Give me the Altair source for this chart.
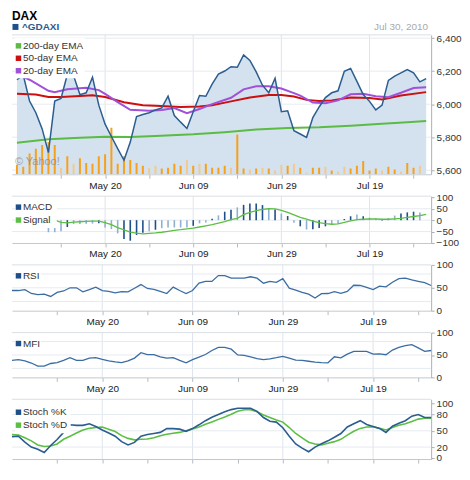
import altair as alt
import pandas as pd

# ---------------- data ----------------
tick_idx = [14, 28, 42, 56]
tick_labels = ["May 20", "Jun 09", "Jun 29", "Jul 19"]
minor_idx = [7, 14, 21, 28, 35, 42, 49, 56, 63]

close = [6148, 6177, 6019, 5948, 5850, 5707, 6019, 6035, 6180, 6172,
         6058, 6069, 6163, 5994, 5879, 5804, 5730, 5660, 5770, 5925,
         5937, 5948, 5965, 5977, 6048, 5931, 5891, 5853, 5954, 6052,
         6048, 6121, 6182, 6201, 6227, 6224, 6299, 6265, 6196, 6115,
         6069, 6157, 5954, 5960, 5839, 5819, 5799, 5919, 5983, 6040,
         6069, 6081, 6199, 6216, 6138, 6058, 6017, 5965, 5994, 6144,
         6170, 6190, 6210, 6190, 6135, 6155]

volume = [10, 8, 22, 27, 31, 34, 31, 7, 19, 11,
          17, 12, 11, 19, 21, 49, 11, 19, 15, 12,
          9, 7, 9, 6, 7, 11, 9, 15, 9, 11,
          11, 7, 7, 9, 7, 42, 6, 5, 6, 7,
          6, 4, 10, 9, 11, 7, 2, 7, 7, 8,
          4, 3, 8, 6, 9, 14, 4, 6, 4, 8,
          5, 3, 12, 7, 9, 0]

vol_up = [1, 1, 1, 1, 1, 1, 1, 0, 1, 0, 1, 1, 1, 1, 1, 1, 1, 1, 1, 1, 1, 0,
          0, 1, 1, 1, 1, 0, 1, 0, 1, 1, 1, 1, 0, 1, 1, 0, 1, 0, 1, 0, 0, 1,
          0, 1, 0, 1, 1, 0, 1, 0, 0, 1, 1, 1, 1, 1, 0, 1, 1, 0, 1, 1, 0, 1]

macd = [40, 35, 12, -5, -15, -53, -53, -49, -30, -17,
        -17, -16, -15, -14, -32, -39, -58, -83, -90, -65,
        -55, -49, -42, -35, -32, -32, -32, -32, -25, -14,
        -10, 6, 21, 37, 45, 56, 67, 73, 73, 66,
        53, 47, 29, 18, -11, -27, -41, -40, -34, -27,
        -19, -16, 5, 17, 25, 17, 11, 7, -3, 7,
        20, 29, 34, 37, 33, None]

macd_dark = [0, 0, 0, 0, 0, 0, 0, 0, 1, 0, 0, 0, 0, 1, 0, 0, 0, 1, 1, 1,
             1, 0, 1, 0, 0, 0, 0, 0, 1, 0, 0, 1, 0, 1, 1, 0, 1, 1, 1, 1,
             0, 1, 0, 1, 0, 1, 0, 1, 1, 1, 0, 0, 1, 1, 0, 1, 0, 0, 1, 1,
             0, 1, 1, 1, 0, 0]

signal = [60, 52, 44, 35, 24, 12, 0, -10, -12, -9,
          -7, -5, -4, -4, -11, -20, -33, -43, -52, -57,
          -60, -58, -56, -53, -49, -45, -42, -38, -35, -30,
          -25, -20, -13, -6, 2, 8, 24, 34, 42, 47,
          50, 49, 43, 34, 23, 12, 4, -4, -11, -15,
          -18, -16, -10, -3, 2, 4, 5, 5, 4, 4,
          6, 8, 12, 16, 20, 25]

rsi = [44, 44, 46, 37.5, 35, 36, 31, 40, 43, 50,
       50, 41, 46, 51.5, 44, 42, 39, 41.7, 41, 49,
       57, 48.5, 46.5, 42, 37.5, 51.5, 44, 37.5, 44, 60,
       64, 64, 76.5, 76.5, 71, 71, 71, 74, 71, 60,
       64, 62, 70, 49, 45, 40, 36, 27.5, 37, 37.5,
       41.5, 38, 42, 55.5, 55, 51, 46, 53.5, 52, 62,
       70, 71, 67, 64, 61, 55]

mfi = [38, 39.5, 37, 32, 25, 25, 31, 33, 38, 44,
       38, 38, 43, 44, 40, 37, 34.5, 33, 37, 43,
       55, 51, 51, 46, 43, 44, 38, 32.5, 39.5, 45,
       51, 60, 67, 67, 63, 50, 49, 45.5, 42, 39.5,
       41.5, 44, 47, 43, 38.5, 38, 36, 34, 33, 32.5,
       46, 43.5, 52, 58, 58, 58, 52, 52.5, 50.5, 61,
       67, 71, 73, 66, 58, 60]

stoch_k = [39, 40, 29, 20, 16, 10, 23, 34, 47, 61,
           60, 60, 63, 58, 51.5, 46, 40, 30, 24, 28.6,
           40, 43, 45, 47, 54, 54, 53, 49, 54, 61,
           68.6, 75, 80, 85, 89, 91.6, 91.6, 91.6, 85.8, 74.4,
           67.6, 66, 55.6, 40, 25.7, 18, 11.5, 20, 26, 31.5,
           38, 45, 57, 63, 68.6, 61.7, 58, 54.4, 47, 58.3,
           64, 68.6, 77, 80, 74.4, 74.4]

stoch_d = [43, 42, 37, 31.5, 24, 21, 22, 25.7, 34.3, 40,
           46, 51.5, 54.5, 56, 57, 53, 48.7, 41, 36, 33.3,
           34.3, 35, 37, 41, 43.5, 45.5, 47, 50, 53.5, 57,
           62, 66, 71, 75.5, 80.5, 86, 88.7, 88.7, 85, 79,
           74.4, 70, 66, 56, 45, 37, 29, 25.7, 24, 27,
           30, 34.3, 42, 49, 54.4, 57, 57.5, 54.4, 51.5, 56,
           60, 63, 67, 71.5, 73, 73.2]

ema200_idx = [0, 5, 10, 14, 18, 22, 28, 33, 38, 43, 48, 53, 58, 62, 65]
ema200 = [5766, 5787, 5796, 5803, 5801, 5807, 5817, 5830, 5847, 5856, 5860, 5869, 5882, 5891, 5898]

ema50_idx = [0, 3, 5, 7, 10, 12, 14, 17, 20, 22, 26, 29, 31, 34, 37, 40, 42, 44, 46, 48,
             50, 53, 56, 58, 61, 65]
ema50 = [6063, 6058, 6043, 6043, 6050, 6054, 6043, 6012, 5994, 5990, 5983, 5986, 5994, 6017,
         6040, 6056, 6055, 6046, 6026, 6019, 6023, 6041, 6037, 6029, 6052, 6073]

ema20_idx = [0, 2, 5, 6, 8, 11, 13, 14, 16, 18, 21, 23, 25, 27, 29, 31, 34, 36, 38, 40,
             42, 44, 45, 47, 49, 51, 53, 55, 57, 59, 61, 63, 65]
ema20 = [6184, 6148, 6081, 6072, 6090, 6100, 6085, 6062, 6012, 5966, 5960, 5965, 5977, 5946,
         5971, 6000, 6039, 6090, 6109, 6109, 6095, 6067, 6052, 6010, 6006, 6023, 6060, 6063,
         6048, 6042, 6069, 6098, 6102]

price_ticks = [5600, 5800, 6000, 6200, 6400]
macd_ticks = [-100, -50, 0, 50, 100]
macd_grid = [-50, 0, 50]
osc_ticks = [0, 50, 100]
osc_grid = [20, 50, 80]
stoch_ticks = [0, 20, 50, 80, 100]

# ---------------- layout / styles ----------------
W = 421
H_PRICE, H_MACD, H_RSI, H_MFI, H_STOCH = 140, 47, 46, 45, 60
GAP = 22
FONT = "Liberation Sans"
P_MIN, P_MAX = 5575, 6420

C_PRICE = "#2b5d90"
C_AREA = "#d4e2ef"
C_200 = "#5cbb45"
C_50 = "#cc1010"
C_20 = "#a150d8"
C_DARK = "#1f4f8a"
C_LIGHT = "#8fb0d2"
C_GREEN = "#5cbf44"
C_OSC = "#3b6da3"
C_VGRID = "#dde5ee"
C_HGRID = "#e6ebf0"
C_BORDER = "#d9dfe5"

ONE = pd.DataFrame({"a": [0]})
n = len(close)
df = pd.DataFrame({
    "i": list(range(n)), "close": close, "volume": volume, "vol_up": vol_up,
    "macd": macd, "macd_dark": macd_dark, "signal": signal, "rsi": rsi,
    "mfi": mfi, "k": stoch_k, "d": stoch_d,
})

label_expr = "".join(f"datum.value == {v} ? '{t}' : " for v, t in zip(tick_idx, tick_labels)) + "''"


def x_enc(show_labels=True):
    return alt.X("i:Q", title=None,
                 scale=alt.Scale(domain=[0, n - 1], nice=False, zero=False),
                 axis=alt.Axis(values=minor_idx, labelExpr=label_expr, labels=show_labels,
                               grid=False, tickSize=4, tickColor="#b4bcc4",
                               domainColor="#c3c8cd", labelFontSize=10, labelColor="#222",
                               labelPadding=2, labelOverlap=False, labelFlush=False))


def y_axis(values, fmt=None):
    kw = dict(values=values, orient="right", title=None, grid=False, tickSize=3,
              tickColor="#a9b0b7", domainColor="#a9b0b7", labelFontSize=10,
              labelColor="#333", labelPadding=2, labelOverlap=False)
    if fmt:
        kw["format"] = fmt
    return alt.Axis(**kw)


def vgrid(show_labels=True):
    return alt.Chart(pd.DataFrame({"i": tick_idx})).mark_rule(
        color=C_VGRID, strokeWidth=1).encode(x=x_enc(show_labels))


def hgrid(values, scale, axis):
    return alt.Chart(pd.DataFrame({"g": values})).mark_rule(
        color=C_HGRID, strokeWidth=1).encode(y=alt.Y("g:Q", scale=scale, axis=axis))


def top_border():
    return alt.Chart(ONE).mark_rule(color=C_BORDER, strokeWidth=1).encode(y=alt.value(0))


def legend(items, width, y0=3, x0=3, row=13):
    layers = [alt.Chart(ONE).mark_rect(color="white", opacity=1).encode(
        x=alt.value(x0), x2=alt.value(x0 + width),
        y=alt.value(y0), y2=alt.value(y0 + row * len(items) + 3))]
    for k, (label, color) in enumerate(items):
        yc = y0 + 8 + row * k
        layers.append(alt.Chart(ONE).mark_square(size=30, filled=True, opacity=1, color=color)
                      .encode(x=alt.value(x0 + 3.5), y=alt.value(yc)))
        layers.append(alt.Chart(ONE).mark_text(align="left", baseline="middle", fontSize=10,
                                               color="#333")
                      .encode(x=alt.value(x0 + 8), y=alt.value(yc), text=alt.value(label)))
    return layers


# ---------------- price panel ----------------
price_scale = alt.Scale(domain=[P_MIN, P_MAX], nice=False, zero=False)
x1 = x_enc(True)

area = alt.Chart(df).mark_area(color=C_AREA, opacity=1).encode(
    x=x1, y=alt.Y("close:Q", scale=price_scale, axis=y_axis(price_ticks, ",.0f")),
    y2=alt.datum(P_MIN))
vol = alt.Chart(df).mark_bar(size=2, clip=True).encode(
    x=x1, y=alt.Y("volume:Q", scale=alt.Scale(domain=[0, 147]), axis=None),
    color=alt.condition("datum.vol_up == 1", alt.value("#f7a11a"), alt.value("#f5c98c")))


def ema_line(idx, vals, color):
    return alt.Chart(pd.DataFrame({"i": idx, "v": vals})).mark_line(
        color=color, strokeWidth=2).encode(
        x=x1, y=alt.Y("v:Q", scale=price_scale, axis=None))


line = alt.Chart(df).mark_line(color=C_PRICE, strokeWidth=1.5).encode(
    x=x1, y=alt.Y("close:Q", scale=price_scale, axis=None))

watermark = alt.Chart(ONE).mark_text(align="left", baseline="middle", fontSize=11,
                                     color="#8a8a8a", opacity=0.75).encode(
    x=alt.value(3), y=alt.value(H_PRICE - 12), text=alt.value("\u00a9 Yahoo!"))

hdr_title = alt.Chart(ONE).mark_text(align="left", baseline="top", fontSize=12,
                                     fontWeight="bold", color="#000").encode(
    x=alt.value(0), y=alt.value(-24), text=alt.value("DAX"))
hdr_sq = alt.Chart(ONE).mark_square(size=36, filled=True, opacity=1, color=C_DARK).encode(
    x=alt.value(3.5), y=alt.value(-8))
hdr_sym = alt.Chart(ONE).mark_text(align="left", baseline="middle", fontSize=10,
                                   fontWeight="bold", color="#2a5a90").encode(
    x=alt.value(10), y=alt.value(-8), text=alt.value("^GDAXI"))
hdr_date = alt.Chart(ONE).mark_text(align="right", baseline="middle", fontSize=10,
                                    color="#aaaaaa").encode(
    x=alt.value(W - 3), y=alt.value(-8), text=alt.value("Jul 30, 2010"))

price_panel = alt.layer(
    vgrid(True), hgrid(price_ticks, price_scale, None), area, vol,
    ema_line(ema200_idx, ema200, C_200), ema_line(ema50_idx, ema50, C_50),
    ema_line(ema20_idx, ema20, C_20), line, watermark,
    *legend([("200-day EMA", C_200), ("50-day EMA", C_50), ("20-day EMA", C_20)], 70, row=12.5),
    hdr_title, hdr_sq, hdr_sym, hdr_date, top_border(),
).resolve_scale(y="independent").properties(width=W, height=H_PRICE)

# ---------------- MACD panel ----------------
macd_scale = alt.Scale(domain=[-100, 105], nice=False)
macd_axis = y_axis(macd_ticks)
macd_bars = alt.Chart(df).mark_bar(size=1.6).encode(
    x=x1, y=alt.Y("macd:Q", scale=macd_scale, axis=macd_axis),
    color=alt.condition("datum.macd_dark == 1", alt.value(C_DARK), alt.value(C_LIGHT)))
sig_line = alt.Chart(df).mark_line(color=C_GREEN, strokeWidth=1.3).encode(
    x=x1, y=alt.Y("signal:Q", scale=macd_scale, axis=macd_axis))
macd_panel = alt.layer(
    vgrid(True), hgrid(macd_grid, macd_scale, macd_axis), macd_bars, sig_line,
    *legend([("MACD", C_DARK), ("Signal", C_GREEN)], 42), top_border(),
).properties(width=W, height=H_MACD)


# ---------------- RSI / MFI panels ----------------
def osc_panel(field, name, h):
    sc = alt.Scale(domain=[0, 100], nice=False)
    ax = y_axis(osc_ticks)
    ln = alt.Chart(df).mark_line(color=C_OSC, strokeWidth=1.3).encode(
        x=x1, y=alt.Y(f"{field}:Q", scale=sc, axis=ax))
    return alt.layer(
        vgrid(True), hgrid(osc_grid, sc, ax), ln,
        *legend([(name, C_DARK)], 26), top_border(),
    ).properties(width=W, height=h)


rsi_panel = osc_panel("rsi", "RSI", H_RSI)
mfi_panel = osc_panel("mfi", "MFI", H_MFI)

# ---------------- Stochastic panel ----------------
x5 = x_enc(False)
st_scale = alt.Scale(domain=[-2, 108], nice=False)
st_axis = y_axis(stoch_ticks)
k_line = alt.Chart(df).mark_line(color=C_PRICE, strokeWidth=1.6).encode(
    x=x5, y=alt.Y("k:Q", scale=st_scale, axis=st_axis))
d_line = alt.Chart(df).mark_line(color=C_GREEN, strokeWidth=1.6).encode(
    x=x5, y=alt.Y("d:Q", scale=st_scale, axis=st_axis))
stoch_panel = alt.layer(
    vgrid(False), hgrid(osc_grid, st_scale, st_axis), d_line, k_line,
    *legend([("Stoch %K", C_DARK), ("Stoch %D", C_GREEN)], 56, y0=5), top_border(),
).properties(width=W, height=H_STOCH)

chart = alt.vconcat(
    price_panel, macd_panel, rsi_panel, mfi_panel, stoch_panel,
    spacing=GAP, bounds="flush",
).properties(padding=0).configure(font=FONT).configure_view(stroke="transparent")

chart.save("out.html", embed_options={"renderer": "svg", "actions": False})
